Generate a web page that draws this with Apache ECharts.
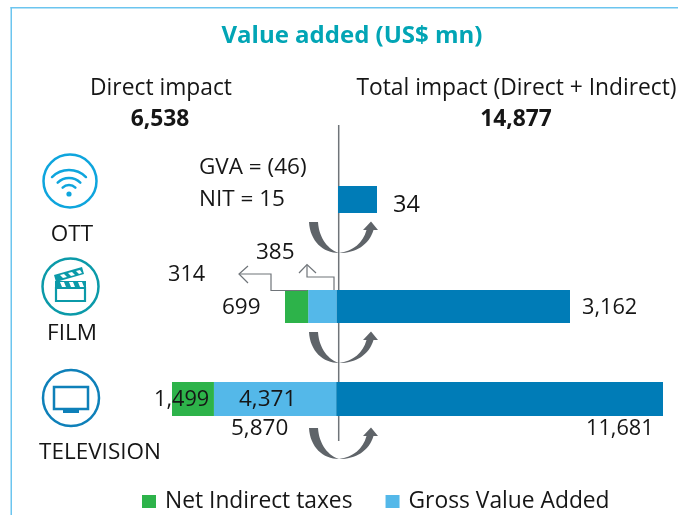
<!DOCTYPE html>
<html>
<head>
<meta charset="utf-8">
<style>html,body{margin:0;padding:0;background:#fff}#c{width:678px;height:515px}</style>
<script src="https://cdn.jsdelivr.net/npm/echarts@6/dist/echarts.min.js"></script>
</head>
<body>
<div id="c"></div>
<script>
var categories = ['OTT', 'FILM', 'TELEVISION'];
var netIndirectTaxes = [null, 314, 1499];
var grossValueAdded = [null, 385, 4371];
var totalImpact = [34, 3162, 11681];
var directTotals = [null, 699, 5870];
var directHeadline = '6,538';
var totalHeadline = '14,877';
var ottNotes = ['GVA = (46)', 'NIT = 15'];

var FONT = '"Open Sans", "Noto Sans", sans-serif';
var INK = '#161616', GREY = '#5f6469', LINE = '#6f7479';
var GREEN = '#2db34a', LIGHT = '#54b8e9', DARK = '#007cb7';
function fmt(v) { return v.toLocaleString('en-US'); }

/* one grid per row: the source draws each row to its own scale */
var rows = [
  { left: 338, right: 377, top: 186, bottom: 213, min: 0, max: totalImpact[0] },
  { left: 285, right: 570, top: 290, bottom: 323, min: -directTotals[1], max: totalImpact[1] },
  { left: 172, right: 663, top: 382, bottom: 416, min: -directTotals[2], max: totalImpact[2] }
];
var grids = [], xAxes = [], yAxes = [], series = [];
rows.forEach(function (r, i) {
  grids.push({ left: r.left, width: r.right - r.left, top: r.top, height: r.bottom - r.top, containLabel: false });
  xAxes.push({ type: 'value', gridIndex: i, min: r.min, max: r.max, show: false });
  yAxes.push({ type: 'category', gridIndex: i, data: [categories[i]], show: false });
  function add(name, value, color) {
    if (value === null) return;
    series.push({ name: name, type: 'bar', stack: 's' + i, xAxisIndex: i, yAxisIndex: i, barWidth: '100%',
      data: [value], itemStyle: { color: color }, silent: true, animation: false, z: 3 });
  }
  add('Gross Value Added', grossValueAdded[i] === null ? null : -grossValueAdded[i], LIGHT);
  add('Net Indirect taxes', netIndirectTaxes[i] === null ? null : -netIndirectTaxes[i], GREEN);
  add('Total impact', totalImpact[i], DARK);
});

var SZ = 22.5, SZ_HEAD = 22.8, SZ_NUM = 21.7;
function text(s, x, y, opt) {
  opt = opt || {};
  return { type: 'text', x: x, y: y + 2, z: 20, silent: true, style: {
    text: s, x: 0, y: 0, font: (opt.weight || 'normal') + ' ' + (opt.size || SZ) + 'px ' + FONT,
    fill: opt.color || INK, textAlign: opt.align || 'left', textVerticalAlign: 'middle' } };
}
function poly(points, color, w, z) {
  return { type: 'polyline', z: z || 20, silent: true, shape: { points: points },
    style: { stroke: color, lineWidth: w || 1, fill: null } };
}
function bar(x, y, width, height, color) {
  return { type: 'rect', z: 20, silent: true, shape: { x: x, y: y, width: width, height: height }, style: { fill: color } };
}
function circle(cx, cy, r, color, w) {
  return { type: 'circle', z: 20, silent: true, shape: { cx: cx, cy: cy, r: r },
    style: { stroke: color, lineWidth: w || 2.5, fill: '#fff' } };
}
function arc(cx, cy, r, color) {
  return { type: 'arc', z: 21, silent: true,
    shape: { cx: cx, cy: cy, r: r, startAngle: -Math.PI * 0.75, endAngle: -Math.PI * 0.25 },
    style: { stroke: color, lineWidth: 2.5, fill: null, lineCap: 'round' } };
}
function registerPath(name, d) {
  echarts.graphic.registerShape(name, echarts.graphic.extendPath(d, {}));
}
registerPath('curvedArrow', 'M-30,-31 L-21,-31 C-20,-14 -10,-3 0,0 C14,-2 24,-10 27.5,-23 L24,-23 L32,-31.5 L39,-23 L34.5,-23 C30,-8 17,0 0,0 C-16,0 -29,-12 -30,-31 Z');
function curvedArrow(dy) {
  return { type: 'curvedArrow', z: 21, silent: true, x: 339, y: 253 + dy, style: { fill: GREY } };
}
registerPath('clapHoles', 'M60,282 L64,282 L66,287 L62,287 Z M69,282 L73,282 L75,287 L71,287 Z M78,282 L82,282 L84,287 L80,287 Z');
registerPath('clapTop', 'M54,275 L82,267 L84,274 L56,282 Z');
registerPath('clapTopHoles', 'M60,275 L64,274 L67,277 L63,278 Z M68,273 L72,272 L75,275 L71,276 Z M76,271 L80,270 L82,273 L79,274 Z');

var WIFI = '#0ea5dd', FILMC = '#0b9aa9', TV = '#0e80b9', FRAME = '#6cc5ef';
var graphics = [
  bar(10.5, 7, 1.5, 508, FRAME),
  bar(10.5, 7, 667.5, 1.5, FRAME),
  poly([[338.7, 125], [338.7, 441]], '#6f7479', 1.5, 1),

  text('Value added (US$ mn)', 352, 34, { size: 24, weight: 'bold', color: '#02a5b5', align: 'center' }),
  text('Direct impact', 161, 87, { size: SZ_HEAD, align: 'center' }),
  text(directHeadline, 160, 118, { size: SZ_HEAD, weight: 'bold', align: 'center' }),
  text('Total impact (Direct + Indirect)', 516.5, 87, { size: SZ_HEAD, align: 'center' }),
  text(totalHeadline, 516, 118, { size: SZ_HEAD, weight: 'bold', align: 'center' }),

  text(ottNotes[0], 199, 166),
  text(ottNotes[1], 199, 198),
  text(fmt(totalImpact[0]), 393, 203, { size: 23.5 }),

  text(fmt(grossValueAdded[1]), 256, 251),
  text(fmt(netIndirectTaxes[1]), 168, 273, { size: SZ_NUM }),
  text(fmt(directTotals[1]), 222, 306),
  text(fmt(totalImpact[1]), 582, 306, { size: SZ_NUM }),

  text(fmt(netIndirectTaxes[2]), 154, 398, { size: SZ_NUM }),
  text(fmt(grossValueAdded[2]), 239, 398),
  text(fmt(directTotals[2]), 231, 427),
  text(fmt(totalImpact[2]), 586, 427, { size: SZ_NUM }),

  text(categories[0], 72, 233, { align: 'center' }),
  text(categories[1], 72, 332, { align: 'center' }),
  text(categories[2], 100, 451, { align: 'center' }),

  /* leader lines */
  poly([[307, 290.5], [271, 290.5], [271, 274], [239, 274]], LINE, 1.2),
  poly([[248, 266], [239, 274], [248, 283]], LINE, 1.2),
  poly([[334, 290], [334, 277], [307, 277], [307, 265]], LINE, 1.2),
  poly([[299, 273], [307, 264.5], [316, 273]], LINE, 1.2),

  curvedArrow(0), curvedArrow(110), curvedArrow(206),

  /* OTT icon */
  circle(70, 181, 26.5, WIFI),
  arc(69, 194, 24, WIFI), arc(69, 194, 16, WIFI), arc(69, 194, 9, WIFI),
  { type: 'circle', z: 21, silent: true, shape: { cx: 69, cy: 194, r: 2.6 }, style: { fill: WIFI } },

  /* film icon */
  circle(70.5, 286.5, 28, FILMC),
  { type: 'rect', z: 21, silent: true, shape: { x: 56, y: 288, width: 29, height: 13 }, style: { stroke: FILMC, lineWidth: 2.2, fill: '#fff' } },
  { type: 'rect', z: 21, silent: true, shape: { x: 55, y: 281, width: 31, height: 7 }, style: { fill: FILMC } },
  { type: 'clapHoles', z: 22, silent: true, style: { fill: '#fff' } },
  { type: 'clapTop', z: 21, silent: true, style: { fill: FILMC } },
  { type: 'clapTopHoles', z: 22, silent: true, style: { fill: '#fff' } },

  /* television icon */
  circle(71, 398, 28, TV),
  { type: 'rect', z: 21, silent: true, shape: { x: 54, y: 387, width: 34, height: 22 }, style: { stroke: TV, lineWidth: 2.5, fill: '#fff' } },
  { type: 'rect', z: 21, silent: true, shape: { x: 63, y: 409, width: 16, height: 4 }, style: { fill: TV } }
];

var chart = echarts.init(document.getElementById('c'), null, { renderer: 'canvas' });
chart.setOption({
  animation: false,
  backgroundColor: '#fff',
  grid: grids,
  xAxis: xAxes,
  yAxis: yAxes,
  series: series,
  legend: {
    data: ['Net Indirect taxes', 'Gross Value Added'],
    left: 142, top: 490, padding: 0, itemWidth: 14, itemHeight: 13, itemGap: 33, selectedMode: false,
    icon: 'rect', textStyle: { fontFamily: FONT, fontSize: 22.8, color: INK, padding: [0, 0, 0, 4] }
  },
  graphic: { elements: graphics }
});
</script>
</body>
</html>
